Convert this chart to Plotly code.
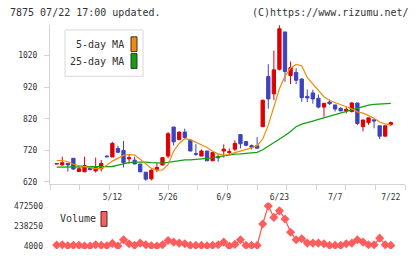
import plotly.graph_objects as go

# ---------------- data ----------------
dates = ["4/23", "4/24", "4/25", "4/28", "4/30", "5/1", "5/2", "5/7", "5/8", "5/9",
         "5/12", "5/13", "5/14", "5/15", "5/16", "5/19", "5/20", "5/21", "5/22", "5/23",
         "5/26", "5/27", "5/28", "5/29", "5/30", "6/2", "6/3", "6/4", "6/5", "6/6",
         "6/9", "6/10", "6/11", "6/12", "6/13", "6/16", "6/17", "6/18", "6/19", "6/20",
         "6/23", "6/24", "6/25", "6/26", "6/27", "6/30", "7/1", "7/2", "7/3", "7/4",
         "7/7", "7/8", "7/9", "7/10", "7/11", "7/14", "7/15", "7/16", "7/17", "7/18",
         "7/22"]

opens = [677, 674, 679, 695, 653, 652, 666, 655, 662, 702,
         699, 726, 720, 693, 689, 677, 651, 630, 660, 674,
         702, 794, 754, 778, 752, 710, 702, 718, 687, 700,
         718, 713, 724, 770, 748, 735, 735, 795, 954, 899,
         977, 1095, 957, 967, 946, 891, 902, 885, 857, 873,
         864, 853, 845, 843, 870, 795, 808, 817, 798, 765,
         802]
highs = [679, 700, 679, 695, 667, 700, 667, 697, 690, 704,
         747, 735, 750, 708, 700, 677, 651, 660, 679, 697,
         778, 794, 780, 789, 752, 740, 723, 718, 713, 710,
         739, 726, 752, 770, 749, 739, 762, 879, 993, 1036,
         1116, 1095, 1001, 980, 948, 913, 912, 897, 869, 881,
         864, 857, 857, 873, 870, 818, 823, 817, 798, 798,
         811]
lows = [677, 672, 653, 659, 653, 652, 657, 650, 653, 698,
        699, 711, 666, 678, 677, 652, 624, 625, 651, 672,
        695, 735, 752, 757, 718, 703, 702, 687, 687, 684,
        697, 707, 718, 726, 733, 723, 726, 794, 852, 880,
        973, 937, 930, 930, 874, 873, 868, 853, 827, 864,
        843, 845, 837, 840, 800, 780, 801, 790, 756, 765,
        797]
closes = [678, 681, 674, 661, 662, 672, 659, 666, 679, 700,
          742, 714, 681, 697, 677, 652, 629, 657, 666, 697,
          773, 747, 778, 761, 718, 708, 718, 687, 713, 697,
          724, 716, 742, 741, 736, 730, 727, 879, 883, 975,
          1105, 970, 982, 942, 887, 886, 883, 857, 869, 868,
          851, 845, 850, 870, 805, 816, 823, 813, 765, 798,
          808]

ma5 = [688, 688, 684, 676, 672, 668, 665, 662, 663, 673,
       686, 695, 704, 707, 705, 692, 677, 663, 657, 658,
       675, 718, 742, 757, 754, 746, 739, 729, 717, 709,
       705, 707, 713, 718, 722, 728, 735, 756, 800, 855,
       915, 955, 980, 992, 988, 950, 930, 912, 890, 878,
       872, 865, 860, 852, 842, 838, 830, 822, 810, 804,
       801]
ma25 = [667, 667, 667, 667, 667, 667, 667, 667, 667, 667,
        669, 673, 678, 681, 683, 684, 683, 681, 680, 680,
        682, 685, 688, 690, 690, 691, 693, 695, 697, 700,
        703, 706, 708, 709, 710, 711, 714, 722, 733, 745,
        755, 767, 780, 795, 803, 809, 813, 818, 823, 828,
        833, 838, 843, 849, 853, 858, 863, 866, 867, 868,
        869]

volume = [15000, 19000, 7500, 12000, 12000, 4000, 4000, 19000, 12000, 7500,
          35000, 4000, 76500, 30500, 12000, 38500, 19300, 7800, 4000, 19300,
          69000, 50000, 38500, 31000, 11700, 11700, 11700, 7800, 11700, 19300,
          50000, 4000, 23000, 77000, 11700, 11700, 11700, 261000, 472500, 338000,
          414600, 318600, 165000, 77000, 88400, 38500, 38500, 38500, 31000, 11700,
          11700, 11700, 31000, 38500, 77000, 50000, 19300, 19300, 96000, 19300,
          11700]

label_dates = ["5/12", "5/26", "6/9", "6/23", "7/7", "7/22"]
price_ticks = [620, 720, 820, 920, 1020]
vol_ticks = [4000, 238250, 472500]

# ---------------- style ----------------
RED = "#dd0000"
BLUE = "#3d43bf"
ORANGE = "#f08c0a"
GREEN = "#12a012"
VOLC = "#ff5c5c"
AXC = "#d4d4d4"
TXT = "#333333"
MONO = "DejaVu Sans Mono"

W, H = 420, 259
L, R, T, B = 50, 15, 25, 7
PW, PH = W - L - R, H - T - B


def px(xp):
    return (xp - L) / PW


def py(yp):
    return (H - B - yp) / PH


x = list(range(len(dates)))
label_pos = [dates.index(d) for d in label_dates]

fig = go.Figure()

fig.add_trace(go.Candlestick(
    x=x, open=opens, high=highs, low=lows, close=closes,
    increasing=dict(line=dict(color=RED, width=1), fillcolor=RED),
    decreasing=dict(line=dict(color=BLUE, width=1), fillcolor=BLUE),
    whiskerwidth=0, showlegend=False, xaxis="x", yaxis="y", hoverinfo="skip"))

fig.add_trace(go.Scatter(x=x, y=ma25, mode="lines", line=dict(color=GREEN, width=1.3),
                         showlegend=False, xaxis="x", yaxis="y"))
fig.add_trace(go.Scatter(x=x, y=ma5, mode="lines", line=dict(color=ORANGE, width=1.2),
                         showlegend=False, xaxis="x", yaxis="y"))

fig.add_trace(go.Scatter(x=x, y=volume, mode="lines+markers",
                         line=dict(color=VOLC, width=1.3),
                         marker=dict(symbol="diamond", size=7, color=VOLC),
                         showlegend=False, xaxis="x2", yaxis="y2"))

xr = [-1.2, 62.55]
price_dom = [py(186), 1]
vol_dom = [0, py(205)]

fig.update_layout(
    width=W, height=H, margin=dict(l=L, r=R, t=T, b=B),
    paper_bgcolor="white", plot_bgcolor="white",
    boxgap=0.15,
    font=dict(family=MONO, size=8, color=TXT),
    xaxis=dict(range=xr, domain=[0, 1], anchor="y", showgrid=False, zeroline=False,
               showline=True, linecolor=AXC, linewidth=1,
               tickmode="array", tickvals=label_pos, ticktext=label_dates,
               ticks="", ticklen=5, ticklabelstandoff=6,
               tickfont=dict(family=MONO, size=8, color=TXT),
               minor=dict(tickmode="linear", tick0=xr[0], dtick=(xr[1] - xr[0]) / 12,
                          ticks="outside", ticklen=5, tickcolor=AXC, tickwidth=1),
               rangeslider=dict(visible=False)),
    yaxis=dict(range=[614, 1117], domain=price_dom, anchor="x", showgrid=False, zeroline=False,
               showline=True, linecolor=AXC, linewidth=1,
               tickmode="array", tickvals=price_ticks, ticks="outside", ticklen=5,
               tickcolor=AXC, ticklabelstandoff=5,
               tickfont=dict(family=MONO, size=8, color=TXT)),
    xaxis2=dict(range=xr, domain=[0, 1], anchor="y2", matches="x", visible=False),
    yaxis2=dict(range=[-30500, 510500], domain=vol_dom, anchor="x2", showgrid=False,
                zeroline=False, showline=False, tickmode="array", tickvals=vol_ticks,
                ticktext=[str(v) for v in vol_ticks],
                ticks="", ticklabelstandoff=6,
                tickfont=dict(family=MONO, size=8, color=TXT)),
)

shapes = []
annotations = []

# header texts
annotations.append(dict(x=px(8), y=py(12), xref="paper", yref="paper", xanchor="left",
                        yanchor="middle", showarrow=False, text="7875 07/22 17:00 updated.",
                        font=dict(family=MONO, size=10, color=TXT)))
annotations.append(dict(x=px(411), y=py(12), xref="paper", yref="paper", xanchor="right",
                        yanchor="middle", showarrow=False, text="(C)https://www.rizumu.net/",
                        font=dict(family=MONO, size=10, color=TXT)))

# MA legend box
shapes.append(dict(type="rect", xref="paper", yref="paper", x0=px(65), x1=px(143),
                   y0=py(77), y1=py(30), line=dict(color="#d8d8d8", width=1),
                   fillcolor="white", layer="above"))
legend_items = [("5-day MA", ORANGE, 37, 52), ("25-day MA", GREEN, 54, 69)]
for name, col, y0, y1 in legend_items:
    shapes.append(dict(type="rect", xref="paper", yref="paper", x0=px(131), x1=px(137),
                       y0=py(y1), y1=py(y0), line=dict(color="#333333", width=1),
                       fillcolor=col, layer="above"))
    annotations.append(dict(x=px(126), y=py((y0 + y1) / 2), xref="paper", yref="paper",
                            xanchor="right", yanchor="middle", showarrow=False, text=name,
                            font=dict(family=MONO, size=10, color=TXT)))

# Volume legend
shapes.append(dict(type="rect", xref="paper", yref="paper", x0=px(101), x1=px(107),
                   y0=py(229), y1=py(214), line=dict(color="#333333", width=1),
                   fillcolor=VOLC, layer="above"))
annotations.append(dict(x=px(58), y=py(221.5), xref="paper", yref="paper", xanchor="left",
                        yanchor="middle", showarrow=False, text="Volume",
                        font=dict(family=MONO, size=10, color=TXT)))

fig.update_layout(shapes=shapes, annotations=annotations)

fig.write_html("out.html")
